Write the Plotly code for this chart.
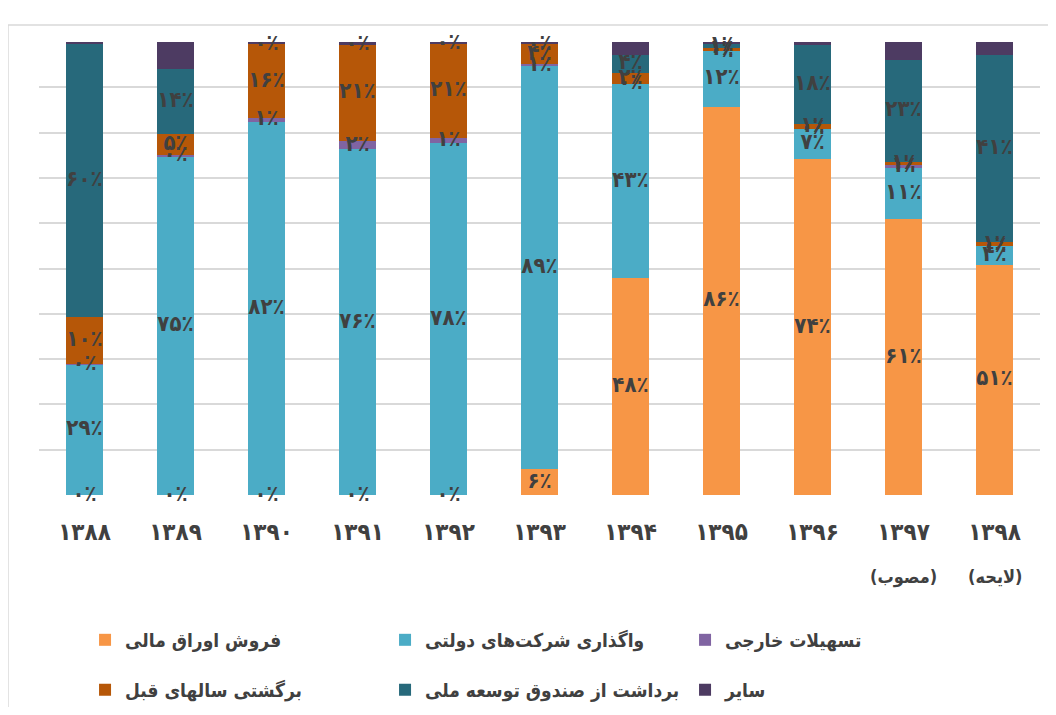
import plotly.graph_objects as go
import numpy as np

years = ['۱۳۸۸', '۱۳۸۹', '۱۳۹۰', '۱۳۹۱', '۱۳۹۲', '۱۳۹۳', '۱۳۹۴', '۱۳۹۵', '۱۳۹۶', '۱۳۹۷', '۱۳۹۸']
sub_labels = {'۱۳۹۷': '(مصوب)', '۱۳۹۸': '(لایحه)'}

names = ['فروش اوراق مالی', 'واگذاری شرکت‌های دولتی', 'تسهیلات خارجی',
         'برگشتی سالهای قبل', 'برداشت از صندوق توسعه ملی', 'سایر']

bonds     = [0, 0, 0, 0, 0, 5.7, 47.8, 85.7, 74.1, 60.9, 50.8]
privatize = [28.7, 74.8, 82.4, 76.3, 77.6, 88.9, 43.0, 12.3, 6.8, 11.3, 4.1]
foreign   = [0.3, 0.3, 0.8, 1.9, 1.2, 0.6, 0, 0, 0, 0.6, 0]
returned  = [10.4, 4.6, 16.3, 21.2, 20.9, 4.3, 2.3, 0.7, 0.9, 0.7, 0.9]
ndf       = [60.1, 14.3, 0, 0, 0, 0, 4.1, 0.9, 17.6, 22.6, 41.3]
other     = [0.5, 6.0, 0.5, 0.6, 0.3, 0.5, 2.8, 0.4, 0.6, 3.9, 2.9]

series = [bonds, privatize, foreign, returned, ndf, other]
colors = ['#F79646', '#4BACC6', '#8064A2', '#B65708', '#27697B', '#4D3B62']
labelled = [True, True, True, True, True, False]
legend_of = ['legend', 'legend', 'legend', 'legend2', 'legend2', 'legend2']

FONT = 'DejaVu Sans Condensed'
TXT = '#404040'
fa_digits = str.maketrans('0123456789', '۰۱۲۳۴۵۶۷۸۹')


def fa_pct(v):
    return str(int(round(v))).translate(fa_digits) + '٪'


fig = go.Figure()
for vals, name, col, lg in zip(series, names, colors, legend_of):
    fig.add_trace(go.Bar(
        x=years, y=vals, name=name, marker=dict(color=col, line=dict(width=0)),
        legend=lg, hoverinfo='skip'))

# data labels at the middle of each stacked segment
cum = np.zeros(len(years))
for vals, lab in zip(series, labelled):
    v = np.array(vals, dtype=float)
    mid = cum + v / 2
    cum = cum + v
    if lab:
        fig.add_trace(go.Scatter(
            x=years, y=mid, mode='text', text=[fa_pct(a) for a in v],
            textposition='middle center', showlegend=False, cliponaxis=False,
            textfont=dict(family=FONT, size=22, color=TXT, weight='bold'),
            hoverinfo='skip'))

for yr, s in sub_labels.items():
    fig.add_annotation(x=yr, xref='x', y=-0.181, yref='paper', text=s,
                       showarrow=False, yanchor='middle',
                       font=dict(family=FONT, size=18, color=TXT, weight='bold'))

# chart-area border
fig.add_shape(type='rect', xref='paper', yref='paper', x0=-0.031, x1=1.06,
              y0=-0.6, y1=1.0375, line=dict(color='#D9D9D9', width=1.5),
              fillcolor='rgba(0,0,0,0)', layer='below')

legend_common = dict(orientation='h', xanchor='left', yanchor='middle',
                     entrywidth=255, entrywidthmode='pixels',
                     font=dict(family=FONT, size=19, color=TXT, weight='bold'),
                     bgcolor='rgba(0,0,0,0)', traceorder='normal')

fig.update_layout(
    width=1040, height=699,
    barmode='stack', bargap=0.6,
    plot_bgcolor='white', paper_bgcolor='white',
    margin=dict(l=31, r=8, t=34, b=212, autoexpand=False),
    font=dict(family=FONT, color=TXT),
    legend=dict(x=0.046, y=-0.32, **legend_common),
    legend2=dict(x=0.046, y=-0.43, **legend_common),
    xaxis=dict(type='category', range=[-0.5, len(years) - 0.5],
               showgrid=False, showline=False, ticks='',
               ticklabelstandoff=20,
               tickfont=dict(family=FONT, size=24, color=TXT, weight='bold')),
    yaxis=dict(range=[0, 100], dtick=10, showticklabels=False,
               showgrid=True, gridcolor='#D9D9D9', gridwidth=1.5,
               zeroline=False, showline=False, ticks=''),
)

fig.write_html('out.html')
